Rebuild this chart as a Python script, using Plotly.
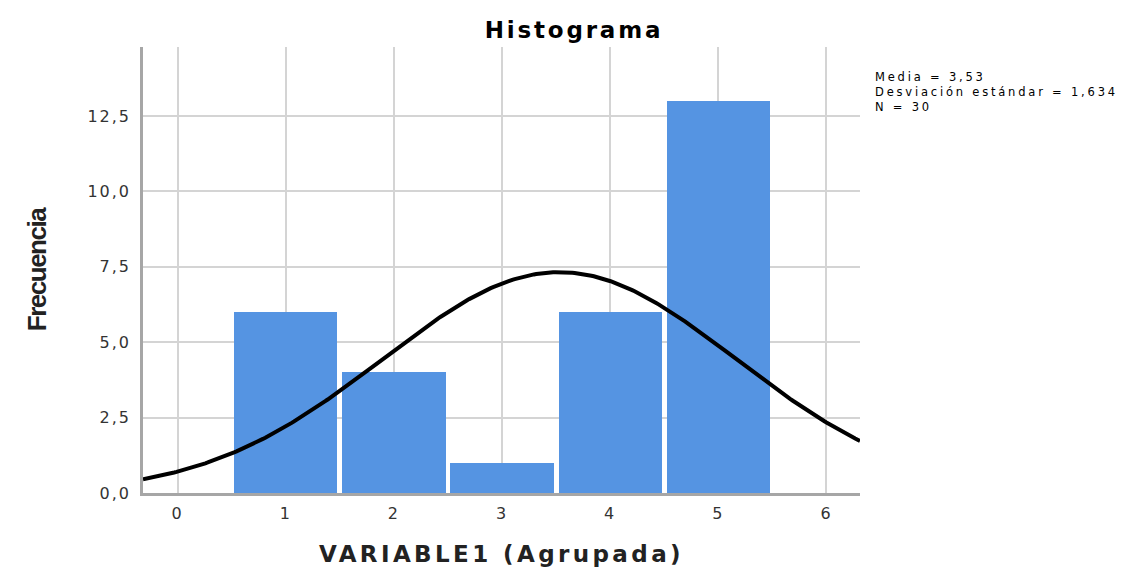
import numpy as np
import plotly.graph_objects as go

# datos del histograma
categorias = [1, 2, 3, 4, 5]
frecuencias = [6, 4, 1, 6, 13]
media = 3.53
desv_est = 1.634
n_total = 30
ancho_bin = 1

y_ticks = [0, 2.5, 5, 7.5, 10, 12.5]
y_tick_labels = ["0,0", "2,5", "5,0", "7,5", "10,0", "12,5"]
x_ticks = [0, 1, 2, 3, 4, 5, 6]
x_tick_labels = ["0", "1", "2", "3", "4", "5", "6"]
lineas_estadisticos = ["Media = 3,53", "Desviación estándar = 1,634", "N = 30"]

x_min, x_max = -0.32, 6.31
y_max = 14.79

# curva normal con la media y desviación que muestra el gráfico
x_curva = np.linspace(x_min, x_max, 300)
y_curva = n_total * ancho_bin / (desv_est * np.sqrt(2 * np.pi)) * np.exp(-0.5 * ((x_curva - media) / desv_est) ** 2)

FUENTE = "DejaVu Sans, Liberation Sans, Arial"


def espaciado(texto, px):
    return "<span style='letter-spacing: {}px'>{}</span>".format(px, texto)


fig = go.Figure()

fig.add_trace(
    go.Bar(
        x=categorias,
        y=frecuencias,
        width=0.955,
        marker=dict(color="#5594e2", line=dict(width=0)),
        showlegend=False
    )
)

fig.add_trace(
    go.Scatter(
        x=x_curva,
        y=y_curva,
        mode="lines",
        line=dict(color="black", width=4),
        showlegend=False
    )
)

# bloque de estadísticos a la derecha
alto_plot = 493 - 47
ancho_plot = 860 - 143
fig.add_annotation(
    x=(873 - 143) / ancho_plot,
    y=(493 - 92) / alto_plot,
    xref="paper",
    yref="paper",
    text="<br>".join(espaciado(linea, 2.8) for linea in lineas_estadisticos),
    align="left",
    xanchor="left",
    yanchor="middle",
    showarrow=False,
    font=dict(family=FUENTE, size=11.5, color="black")
)

fig.update_layout(
    width=1120,
    height=569,
    paper_bgcolor="white",
    plot_bgcolor="white",
    margin=dict(l=135, r=268, t=39, b=84),
    bargap=0,
    title=dict(
        text="<b>" + espaciado("Histograma", 2.8) + "</b>",
        x=566 / 1120,
        xanchor="center",
        y=1 - 22 / 569,
        yanchor="middle",
        font=dict(family=FUENTE, size=23, color="black")
    ),
    xaxis=dict(
        range=[x_min, x_max],
        tickvals=x_ticks,
        ticktext=[espaciado(t, 2) for t in x_tick_labels],
        showgrid=True,
        gridcolor="#d4d4d4",
        gridwidth=1.5,
        zeroline=False,
        showline=True,
        linecolor="#a6a6a6",
        linewidth=2.5,
        ticks="",
        ticklabelstandoff=4,
        tickfont=dict(family=FUENTE, size=16, color="#333333"),
        title=dict(
            text="<b>" + espaciado("VARIABLE1 (Agrupada)", 3.4) + "</b>",
            font=dict(family=FUENTE, size=23, color="#222222"),
            standoff=24
        )
    ),
    yaxis=dict(
        range=[0, y_max],
        tickvals=y_ticks,
        ticktext=[espaciado(t, 2) for t in y_tick_labels],
        showgrid=True,
        gridcolor="#d4d4d4",
        gridwidth=1.5,
        zeroline=False,
        showline=True,
        linecolor="#a6a6a6",
        linewidth=2.5,
        ticks="",
        ticklabelstandoff=6,
        tickfont=dict(family=FUENTE, size=16, color="#333333"),
        title=dict(
            text="<b>" + espaciado("Frecuencia", -1.5) + "</b>",
            font=dict(family="Liberation Sans, Arial", size=26, color="#222222"),
            standoff=34
        )
    )
)

fig.write_html("out.html")
